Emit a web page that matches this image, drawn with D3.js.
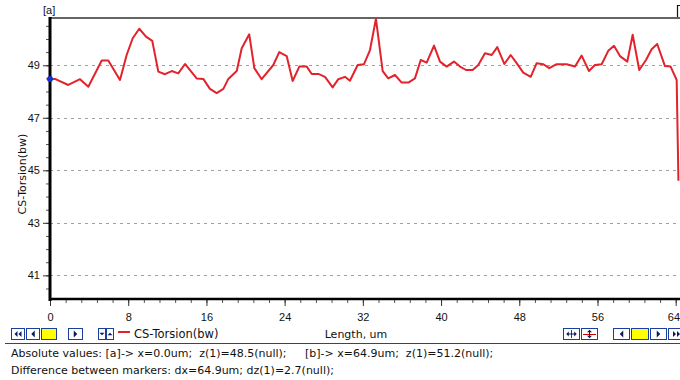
<!DOCTYPE html>
<html>
<head>
<meta charset="utf-8">
<script src="https://cdnjs.cloudflare.com/ajax/libs/d3/7.8.5/d3.min.js"></script>
<style>
body { margin: 0; background: #fff; }
svg { display: block; font-family: "DejaVu Sans", Verdana, sans-serif; }
</style>
</head>
<body>
<div id="chart"></div>
<script>
// ---------------------------------------------------
// data
// ---------------------------------------------------
var seriesName = "CS-Torsion(bw)"
var xTitle = "Length, um"
var lengthUm = [0.0, 0.51, 1.87, 3.07, 3.92, 5.29, 5.96, 7.16, 7.84, 8.46, 9.13, 9.82, 10.46, 11.08, 11.76,
    12.45, 13.12, 13.81, 15.00, 15.68, 16.36, 17.05, 17.73, 18.24, 19.10, 19.61, 20.38, 20.90, 21.65, 22.84,
    23.45, 24.21, 24.82, 25.50, 26.26, 26.77, 27.44, 28.13, 28.91, 29.49, 30.17, 30.68, 31.47, 32.12, 32.73,
    33.34, 34.03, 34.60, 35.29, 35.97, 36.65, 37.33, 37.92, 38.53, 39.28, 39.89, 40.57, 41.32, 41.94, 42.55,
    43.23, 43.81, 44.49, 45.18, 45.75, 46.47, 47.12, 47.73, 48.41, 49.17, 49.78, 50.46, 51.07, 51.82, 52.85,
    53.70, 54.38, 55.13, 55.74, 56.43, 57.10, 57.69, 58.30, 59.05, 59.60, 60.27, 60.96, 61.54, 62.11, 62.90,
    63.48, 64.10, 64.28]
var torsion = [48.48, 48.48, 48.25, 48.47, 48.18, 49.18, 49.18, 48.44, 49.39, 50.03, 50.39, 50.09, 49.93, 48.76, 48.66,
    48.78, 48.69, 49.05, 48.50, 48.48, 48.10, 47.94, 48.10, 48.48, 48.78, 49.65, 50.18, 48.89, 48.47, 49.01,
    49.50, 49.35, 48.40, 48.95, 48.95, 48.67, 48.67, 48.56, 48.16, 48.47, 48.56, 48.41, 49.01, 49.04, 49.58,
    50.77, 48.78, 48.50, 48.63, 48.34, 48.34, 48.50, 49.20, 49.10, 49.75, 49.14, 48.95, 49.14, 48.95, 48.82,
    48.82, 49.01, 49.46, 49.39, 49.69, 49.05, 49.39, 49.08, 48.72, 48.56, 49.08, 49.04, 48.89, 49.04, 49.04,
    48.95, 49.37, 48.78, 49.01, 49.04, 49.55, 49.74, 49.35, 49.14, 50.16, 48.82, 49.20, 49.61, 49.81, 48.97,
    48.95, 48.44, 44.6]
var xTicks = [0, 8, 16, 24, 32, 40, 48, 56, 64]
var yTicks = [41, 43, 45, 47, 49]
var statusAbs = ["Absolute values: [a]-> x=0.0um;  z(1)=48.5(null);", "[b]-> x=64.9um;  z(1)=51.2(null);"]
var statusDiff = "Difference between markers: dx=64.9um; dz(1)=2.7(null);"

//---------------------------------------------------
// layout
//---------------------------------------------------
var W = 680, H = 380
var plotL = 50, plotR = 680, plotT = 18, plotB = 299
var lineColor = "#e3232b"
var btnBlue = "#1b3f9e"
var tickFont = "'Liberation Sans', Arial, sans-serif"

var svg = d3.select("#chart").append("svg")
    .attr("width", W).attr("height", H)

var x = d3.scaleLinear().domain([0, 64.44]).range([plotL, plotR])
var y = d3.scaleLinear().domain([40.1, 50.8]).range([plotB, plotT])

//------------------------------------------
// grid lines
//------------------------------------------
svg.append("g").selectAll("line")
    .data(yTicks)
    .enter().append("line")
    .attr("x1", plotL).attr("x2", plotR)
    .attr("y1", d => Math.round(y(d)) + 0.5)
    .attr("y2", d => Math.round(y(d)) + 0.5)
    .style("stroke", "#a0a0a0")
    .style("stroke-dasharray", "3,4")

// top frame
svg.append("line")
    .attr("x1", plotL).attr("x2", plotR).attr("y1", plotT).attr("y2", plotT)
    .style("stroke", "#303030").style("stroke-width", 1.5)

//------------------------------------------
// y axis
//------------------------------------------
var yMinor = d3.range(40.5, 50.8, 0.5)
svg.append("g")
    .attr("transform", "translate(" + (plotL - 1) + ",0)")
    .call(d3.axisLeft(y).tickValues(yMinor).tickSize(3).tickFormat(""))
    .call(g => g.select(".domain").remove())
    .selectAll("line").style("stroke", "#555")

var yAxis = svg.append("g")
    .attr("transform", "translate(" + (plotL - 1) + ",0)")
    .call(d3.axisLeft(y).tickValues(yTicks).tickSize(6).tickPadding(3).tickFormat(d3.format("d")))
yAxis.select(".domain").remove()
yAxis.selectAll("line").style("stroke", "#333")
yAxis.selectAll("text").style("font-size", "11px").style("fill", "#111")
    .style("font-family", tickFont)

//------------------------------------------
// x axis
//------------------------------------------
var xMinor = d3.range(0, 64.5, 1.6)
svg.append("g")
    .attr("transform", "translate(0," + (plotB + 1) + ")")
    .call(d3.axisBottom(x).tickValues(xMinor).tickSize(3).tickFormat(""))
    .call(g => g.select(".domain").remove())
    .selectAll("line").style("stroke", "#555")

var xAxis = svg.append("g")
    .attr("transform", "translate(0," + (plotB + 1) + ")")
    .call(d3.axisBottom(x).tickValues(xTicks).tickSize(6).tickPadding(7).tickFormat(d3.format("d")))
xAxis.select(".domain").remove()
xAxis.selectAll("line").style("stroke", "#333")
xAxis.selectAll("text").style("font-size", "11px").style("fill", "#111")
    .style("font-family", tickFont)
// last label sits against the window edge
xAxis.selectAll("text").filter(d => d == 64)
    .attr("text-anchor", "end").attr("x", W - x(64) - 0.5)

// thick frame lines
svg.append("line")
    .attr("x1", plotL).attr("x2", plotL).attr("y1", plotT - 1).attr("y2", plotB + 2)
    .style("stroke", "#000").style("stroke-width", 3)
svg.append("line")
    .attr("x1", plotL - 1).attr("x2", plotR).attr("y1", plotB).attr("y2", plotB)
    .style("stroke", "#000").style("stroke-width", 2.5)

//------------------------------------------
// the series
//------------------------------------------
var pts = lengthUm.map((d, i) => [d, torsion[i]])
svg.append("clipPath").attr("id", "plotclip")
    .append("rect").attr("x", plotL).attr("y", plotT - 2)
    .attr("width", plotR - plotL).attr("height", plotB - plotT + 2)

svg.append("path")
    .datum(pts)
    .attr("clip-path", "url(#plotclip)")
    .attr("d", d3.line().x(d => x(d[0])).y(d => y(d[1])))
    .style("fill", "none")
    .style("stroke", lineColor)
    .style("stroke-width", 2)
    .style("stroke-linejoin", "round")

// marker [a] point
svg.append("circle")
    .attr("cx", x(lengthUm[0])).attr("cy", y(torsion[0])).attr("r", 3)
    .style("fill", "#1530d0")

// marker labels
svg.append("text").attr("x", 43).attr("y", 14).text("[a]")
    .style("font-size", "11px").style("fill", "#111").style("font-family", tickFont)
// marker [b] flag, its label falls outside the window
svg.append("path")
    .attr("d", "M680,5.5H677.5V17")
    .style("fill", "none").style("stroke", "#111").style("stroke-width", 1.2)

// y title
svg.append("text")
    .attr("transform", "translate(26,174) rotate(-90)")
    .attr("text-anchor", "middle")
    .text(seriesName)
    .style("font-size", "11px").style("fill", "#111")

//------------------------------------------
// toolbar row
//------------------------------------------
function tri(g, cx, cy, dir, s) {
    var p
    if (dir == "l") p = [[cx + s / 2, cy - s], [cx + s / 2, cy + s], [cx - s / 2, cy]]
    else if (dir == "r") p = [[cx - s / 2, cy - s], [cx - s / 2, cy + s], [cx + s / 2, cy]]
    else if (dir == "u") p = [[cx - s, cy + s / 2], [cx + s, cy + s / 2], [cx, cy - s / 2]]
    else p = [[cx - s, cy - s / 2], [cx + s, cy - s / 2], [cx, cy + s / 2]]
    g.append("path").attr("d", "M" + p.join("L") + "Z").style("fill", "#0a1a5a")
}

function button(bx, by, bw, bh, kind) {
    var g = svg.append("g")
    g.append("rect")
        .attr("x", bx + 0.5).attr("y", by + 0.5).attr("width", bw - 1).attr("height", bh - 1)
        .style("fill", kind == "yellow" ? "#ffff00" : "#fff")
        .style("stroke", btnBlue)
    var cx = bx + bw / 2, cy = by + bh / 2
    if (kind == "first") { tri(g, cx - 2, cy, "l", 3); tri(g, cx + 2, cy, "l", 3) }
    if (kind == "last") { tri(g, cx - 2, cy, "r", 3); tri(g, cx + 2, cy, "r", 3) }
    if (kind == "prev") tri(g, cx, cy, "l", 3.5)
    if (kind == "next") tri(g, cx, cy, "r", 3.5)
    if (kind == "down") tri(g, cx, cy, "d", 2.5)
    if (kind == "up") tri(g, cx, cy, "u", 2.5)
    if (kind == "hpan") {
        g.append("line").attr("x1", cx).attr("x2", cx).attr("y1", by + 2).attr("y2", by + bh - 2)
            .style("stroke", "#c00")
        tri(g, cx - 4, cy, "l", 2.5); tri(g, cx + 4, cy, "r", 2.5)
        g.append("line").attr("x1", cx - 4).attr("x2", cx + 4).attr("y1", cy).attr("y2", cy).style("stroke", "#0a1a5a")
    }
    if (kind == "vpan") {
        g.append("line").attr("x1", bx + 2).attr("x2", bx + bw - 2).attr("y1", cy + 0.5).attr("y2", cy + 0.5)
            .style("stroke", "#c00")
        tri(g, cx, cy - 3, "u", 2.5); tri(g, cx, cy + 3, "d", 2.5)
        g.append("line").attr("x1", cx).attr("x2", cx).attr("y1", cy - 3).attr("y2", cy + 3).style("stroke", "#0a1a5a")
    }
}

var by = 328, bh = 12
button(11, by, 14, bh, "first")
button(26, by, 14, bh, "prev")
button(41, by, 16, bh, "yellow")
button(68, by, 15, bh, "next")
button(98, by, 8, bh, "down")
button(106, by, 8, bh, "up")

button(563, by, 17, bh, "hpan")
button(581, by, 17, bh, "vpan")
button(613, by, 17, bh, "prev")
button(631, by, 18, bh, "yellow")
button(650, by, 17, bh, "next")
button(668, by, 17, bh, "last")

// legend
svg.append("line").attr("x1", 118).attr("x2", 130).attr("y1", 332).attr("y2", 332)
    .style("stroke", lineColor).style("stroke-width", 2)
svg.append("text").attr("x", 134).attr("y", 338).text(seriesName)
    .style("font-size", "11.5px").style("fill", "#111")

// x title
svg.append("text").attr("x", 356).attr("y", 338).attr("text-anchor", "middle").text(xTitle)
    .style("font-size", "11px").style("fill", "#111")

// separator
svg.append("line").attr("x1", 5).attr("x2", 680).attr("y1", 343.5).attr("y2", 343.5)
    .style("stroke", "#444")

//------------------------------------------
// status lines
//------------------------------------------
svg.append("text").attr("x", 11).attr("y", 357).text(statusAbs[0])
    .style("font-size", "11px").style("fill", "#111").style("white-space", "pre")
svg.append("text").attr("x", 305).attr("y", 357).text(statusAbs[1])
    .style("font-size", "11px").style("fill", "#111").style("white-space", "pre")
svg.append("text").attr("x", 11).attr("y", 374).text(statusDiff)
    .style("font-size", "11px").style("fill", "#111")
</script>
</body>
</html>
